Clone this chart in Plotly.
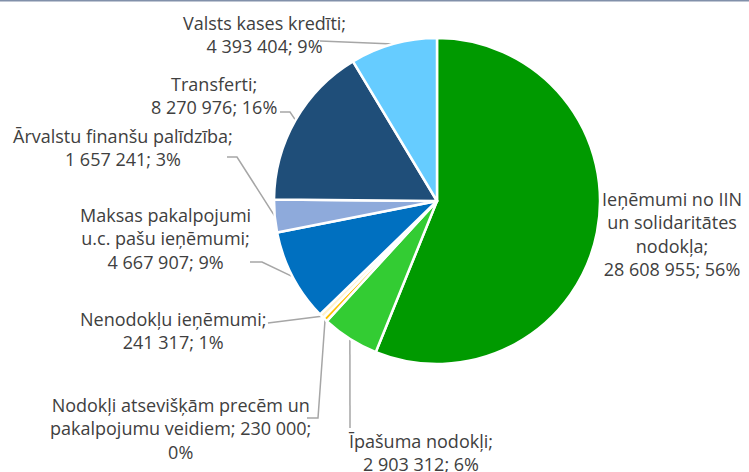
import math
import plotly.graph_objects as go

# Budget revenue structure (EUR)
labels = [
    "Ieņēmumi no IIN<br>un solidaritātes<br>nodokļa;",
    "Īpašuma nodokļi;",
    "Nodokļi atsevišķām precēm un<br>pakalpojumu veidiem; 230 000;",
    "Nenodokļu ieņēmumi;",
    "Maksas pakalpojumi<br>u.c. pašu ieņēmumi;",
    "Ārvalstu finanšu palīdzība;",
    "Transferti;",
    "Valsts kases kredīti;",
]
values = [28608955, 2903312, 230000, 241317, 4667907, 1657241, 8270976, 4393404]
value_text = ["28 608 955", "2 903 312", "", "241 317", "4 667 907", "1 657 241", "8 270 976", "4 393 404"]
pct_text = ["56%", "6%", "0%", "1%", "9%", "3%", "16%", "9%"]
colors = ["#009a00", "#33cc33", "#ffc000", "#fff2cc", "#0070c0", "#8eaadb", "#1f4e79", "#66ccff"]

W, H = 749, 472
cx, cy, r = 437, 201, 163  # pie centre and radius in pixels

# label block centres and leader elbow points (pixels)
label_pos = [(672, 234), (420, 452), (180, 428), (173, 330), (165, 238), (123, 147), (214, 95), (264, 34)]
leader_pts = [
    None,
    [(350, 428)],
    [(307, 418), (318, 418)],
    [(268, 323)],
    [(250, 262), (262, 262)],
    [(227, 157), (237, 157)],
    [(280, 112), (290, 112)],
    [(320, 41)],
]

total = sum(values)

fig = go.Figure()
fig.add_trace(go.Pie(
    values=values,
    sort=False,
    direction="clockwise",
    rotation=0,
    marker=dict(colors=colors, line=dict(color="white", width=2.5)),
    textinfo="none",
    hoverinfo="skip",
    showlegend=False,
    domain=dict(x=[(cx - r) / W, (cx + r) / W], y=[1 - (cy + r) / H, 1 - (cy - r) / H]),
))

# leader lines from each label to the middle of its slice edge
cum = 0
for i, v in enumerate(values):
    mid = (cum + v / 2) / total * 2 * math.pi
    cum += v
    ex, ey = cx + r * math.sin(mid), cy - r * math.cos(mid)
    pts = leader_pts[i]
    if pts:
        xs = [p[0] for p in pts] + [ex]
        ys = [p[1] for p in pts] + [ey]
        fig.add_trace(go.Scatter(x=xs, y=ys, mode="lines", line=dict(color="#a6a6a6", width=1.5),
                                 hoverinfo="skip", showlegend=False))

annotations = []
for i, (lab, vt, p) in enumerate(zip(labels, value_text, pct_text)):
    txt = f"{lab}<br>{p}" if not vt else f"{lab}<br>{vt}; {p}"
    x, y = label_pos[i]
    annotations.append(dict(x=x, y=y, xref="x", yref="y", text=txt, showarrow=False,
                            xanchor="center", yanchor="middle", align="center",
                            font=dict(family="Open Sans, sans-serif", size=18, color="#404040")))

fig.update_layout(
    width=W, height=H,
    margin=dict(l=0, r=0, t=0, b=0),
    paper_bgcolor="white", plot_bgcolor="white",
    xaxis=dict(range=[0, W], visible=False, fixedrange=True),
    yaxis=dict(range=[H, 0], visible=False, fixedrange=True),
    annotations=annotations,
    shapes=[dict(type="line", xref="paper", yref="paper", x0=0, x1=1, y0=1, y1=1,
                 line=dict(color="#8190aa", width=3))],
)

fig.write_html("out.html")
